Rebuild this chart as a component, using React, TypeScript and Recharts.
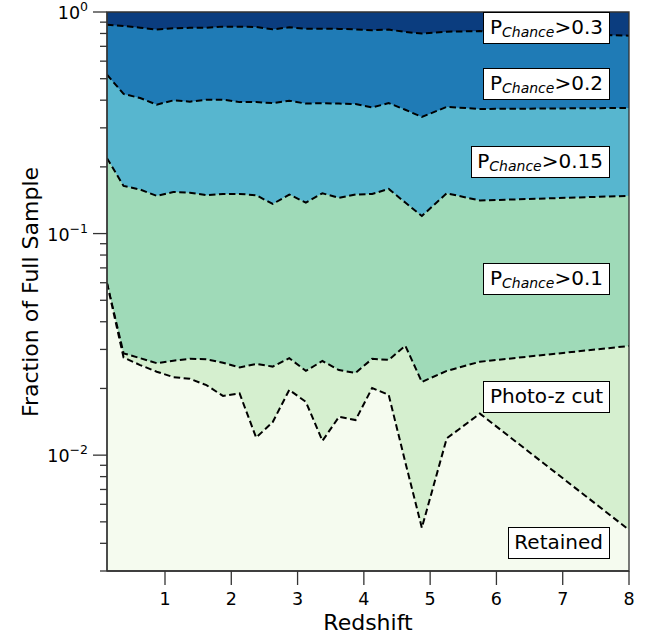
import React from 'react';
import { ComposedChart, Area, XAxis, YAxis, ReferenceArea } from 'recharts';

// redshift bin centres (last points are the wide high-z bins)
const redshift = [0.125, 0.375, 0.625, 0.875, 1.125, 1.375, 1.625, 1.875, 2.125, 2.375, 2.625, 2.875, 3.125, 3.375, 3.625, 3.875, 4.125, 4.375, 4.625, 4.875, 5.25, 5.75, 8.0];

// cumulative fraction at the top of each band
const fullSample = [1, 1, 1, 1, 1, 1, 1, 1, 1, 1, 1, 1, 1, 1, 1, 1, 1, 1, 1, 1, 1, 1, 1];
const chance02Top = [0.877, 0.865, 0.85, 0.833, 0.844, 0.848, 0.848, 0.859, 0.859, 0.856, 0.835, 0.853, 0.841, 0.841, 0.839, 0.835, 0.827, 0.833, 0.813, 0.799, 0.815, 0.82, 0.782];
const chance015Top = [0.521, 0.427, 0.409, 0.382, 0.399, 0.394, 0.402, 0.402, 0.392, 0.392, 0.388, 0.398, 0.386, 0.388, 0.386, 0.384, 0.371, 0.388, 0.362, 0.336, 0.373, 0.365, 0.369];
const chance01Top = [0.219, 0.164, 0.158, 0.148, 0.154, 0.153, 0.149, 0.151, 0.151, 0.149, 0.136, 0.15, 0.138, 0.152, 0.145, 0.15, 0.151, 0.159, 0.138, 0.12, 0.152, 0.141, 0.148];
const photozTop = [0.0597, 0.0288, 0.0274, 0.026, 0.0267, 0.0272, 0.0271, 0.0261, 0.0249, 0.0258, 0.0251, 0.0274, 0.024, 0.0266, 0.0242, 0.0235, 0.0272, 0.0269, 0.0312, 0.0214, 0.024, 0.0264, 0.0311];
const retainedTop = [0.0597, 0.0276, 0.0255, 0.0238, 0.0225, 0.0221, 0.0207, 0.0185, 0.019, 0.012, 0.0141, 0.0197, 0.0174, 0.0116, 0.0149, 0.0144, 0.0201, 0.0187, 0.0093, 0.0047, 0.0119, 0.0154, 0.0046];

const xTicks = [1, 2, 3, 4, 5, 6, 7, 8];
const yTicks = [0.003, 0.004, 0.005, 0.006, 0.007, 0.008, 0.009, 0.01, 0.02, 0.03, 0.04, 0.05, 0.06, 0.07, 0.08, 0.09, 0.1, 0.2, 0.3, 0.4, 0.5, 0.6, 0.7, 0.8, 0.9, 1];
const yMajorExp: Record<string, string> = { '0.01': '\u22122', '0.1': '\u22121', '1': '0' };

const rows = redshift.map((z, i) => ({
  z,
  full: fullSample[i],
  c02: chance02Top[i],
  c015: chance015Top[i],
  c01: chance01Top[i],
  photoz: photozTop[i],
  retained: retainedTop[i],
}));

const FONT = '"DejaVu Sans", sans-serif';
const AXIS = '#333';

const YTick = (props: any) => {
  const { x, y, payload } = props;
  const exp = yMajorExp[String(payload.value)];
  const major = exp !== undefined;
  return (
    <g>
      <line x1={x} x2={x - (major ? 14 : 7)} y1={y} y2={y} stroke={AXIS} strokeWidth={1.3} />
      {major && (
        <text x={x - 19} y={y + 7} textAnchor="end" fontSize={17.5} fill="#000" fontFamily={FONT}>
          10<tspan dy={-8} fontSize={12.5}>{exp}</tspan>
        </text>
      )}
    </g>
  );
};

const XTick = (props: any) => {
  const { x, y, payload } = props;
  return (
    <g>
      <line x1={x} x2={x} y1={y} y2={y + 14} stroke={AXIS} strokeWidth={1.3} />
      <text x={x} y={y + 34} textAnchor="middle" fontSize={17.5} fill="#000" fontFamily={FONT}>
        {payload.value}
      </text>
    </g>
  );
};

const boxStyle: React.CSSProperties = {
  position: 'absolute',
  right: 46.5,
  height: 32,
  boxSizing: 'border-box',
  border: '1.3px solid #000',
  background: '#fff',
  padding: '0 5.5px',
  lineHeight: '29px',
  fontSize: 20,
  whiteSpace: 'nowrap',
  color: '#000',
};

const ChanceLabel = ({ top, cut }: { top: number; cut: string }) => (
  <div style={{ ...boxStyle, top }}>
    P<span style={{ fontSize: 14, fontStyle: 'italic', position: 'relative', top: 3 }}>Chance</span>&gt;{cut}
  </div>
);

const dash = { stroke: '#000', strokeWidth: 2, strokeDasharray: '6.5 3.5' };

export default function App() {
  return (
    <div style={{ position: 'absolute', left: 0, top: 0, width: 656, height: 640, background: '#fff', fontFamily: FONT }}>
      <ComposedChart width={656} height={640} data={rows} margin={{ top: 12, right: 27, bottom: 0, left: 0 }}>
        <XAxis
          dataKey="z"
          type="number"
          domain={[0.125, 8]}
          ticks={xTicks}
          interval={0}
          allowDataOverflow
          height={69}
          tickSize={0}
          tickMargin={0}
          tickLine={false}
          tick={<XTick />}
          axisLine={{ stroke: AXIS, strokeWidth: 1.3 }}
        />
        <YAxis
          type="number"
          scale="log"
          domain={[0.003, 1]}
          ticks={yTicks}
          interval={0}
          allowDataOverflow
          width={107}
          tickSize={0}
          tickMargin={0}
          tickLine={false}
          tick={<YTick />}
          axisLine={{ stroke: AXIS, strokeWidth: 1.3 }}
        />
        <Area type="linear" dataKey="full" baseValue={0.003} fill="#0b3d7f" fillOpacity={1} stroke="none" dot={false} activeDot={false} isAnimationActive={false} />
        <Area type="linear" dataKey="c02" baseValue={0.003} fill="#1f7bb6" fillOpacity={1} {...dash} dot={false} activeDot={false} isAnimationActive={false} />
        <Area type="linear" dataKey="c015" baseValue={0.003} fill="#57b6cf" fillOpacity={1} {...dash} dot={false} activeDot={false} isAnimationActive={false} />
        <Area type="linear" dataKey="c01" baseValue={0.003} fill="#9fdab8" fillOpacity={1} {...dash} dot={false} activeDot={false} isAnimationActive={false} />
        <Area type="linear" dataKey="photoz" baseValue={0.003} fill="#d5efcf" fillOpacity={1} {...dash} dot={false} activeDot={false} isAnimationActive={false} />
        <Area type="linear" dataKey="retained" baseValue={0.003} fill="#f5fbef" fillOpacity={1} {...dash} dot={false} activeDot={false} isAnimationActive={false} />
        <ReferenceArea x1={0.125} x2={8} y1={0.003} y2={1} fill="none" stroke={AXIS} strokeWidth={1.3} ifOverflow="visible" />
      </ComposedChart>

      <ChanceLabel top={12} cut="0.3" />
      <ChanceLabel top={68} cut="0.2" />
      <ChanceLabel top={146} cut="0.15" />
      <ChanceLabel top={263} cut="0.1" />
      <div style={{ ...boxStyle, top: 381 }}>Photo-z cut</div>
      <div style={{ ...boxStyle, top: 527 }}>Retained</div>

      <div style={{ position: 'absolute', left: 368, top: 612, transform: 'translateX(-50%)', fontSize: 22, lineHeight: 1, whiteSpace: 'nowrap', color: '#000' }}>
        Redshift
      </div>
      <div
        style={{
          position: 'absolute',
          left: 31,
          top: 292,
          transform: 'translate(-50%, -50%) rotate(-90deg)',
          fontSize: 22,
          lineHeight: 1,
          whiteSpace: 'nowrap',
          color: '#000',
        }}
      >
        Fraction of Full Sample
      </div>
    </div>
  );
}
